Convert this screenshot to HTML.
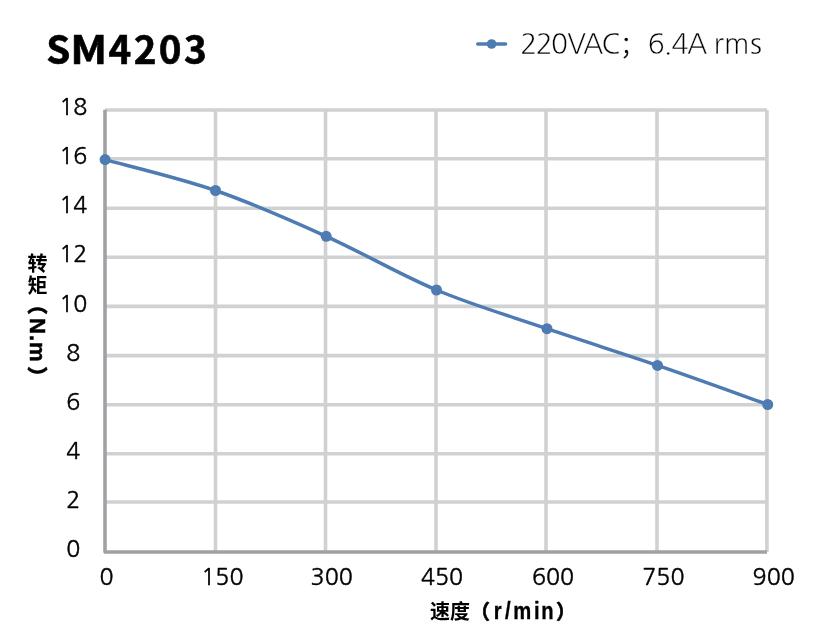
<!DOCTYPE html>
<html><head><meta charset="utf-8">
<style>
html,body{margin:0;padding:0;background:#fff;}
body{width:831px;height:640px;position:relative;overflow:hidden;}
svg{position:absolute;left:0;top:0;will-change:transform;}
.t{font-family:"Liberation Sans","Noto Sans CJK SC",sans-serif;}
.c{font-family:"Noto Sans CJK SC",sans-serif;}
.v{position:absolute;will-change:transform;writing-mode:vertical-rl;font-weight:bold;white-space:nowrap;color:#000;}
.cjk{font-family:"Noto Sans CJK SC",sans-serif;font-size:20px;line-height:20px;}
.lat{font-family:"Liberation Sans","Noto Sans CJK SC",sans-serif;font-size:22px;line-height:22px;}
</style></head>
<body>
<svg width="831" height="640" viewBox="0 0 831 640">
<g stroke="#d0d1d3" stroke-width="3.6" fill="none">
<path d="M105,110H767M105,158.8H767M105,208.2H767M105,257.3H767M105,306.4H767M105,355.6H767M105,404.7H767M105,453.8H767M105,502H767"/>
<path d="M215.5,110V552M325.5,110V552M436,110V552M546,110V552M657,110V552M766.9,110V552"/>
</g>
<g stroke="#a0a1a5" stroke-width="3.6" fill="none">
<path d="M105,109.8V552.8"/>
<path d="M104,552H767"/>
</g>
<path d="M105.1,159.6 C123.5,164.8 178.7,177.7 215.5,190.5 C252.3,203.3 289.4,219.7 326.2,236.3 C363.0,252.9 399.7,274.6 436.5,290.0 C473.3,305.4 510.2,316.1 547.0,328.7 C583.8,341.3 620.7,352.8 657.5,365.4 C694.3,378.0 749.3,398.0 767.7,404.5" stroke="#4e7cb2" stroke-width="3.5" fill="none" stroke-linejoin="round"/>
<g fill="#4e7cb2">
<circle cx="105.1" cy="159.6" r="5.5"/><circle cx="215.5" cy="190.5" r="5.5"/><circle cx="326.2" cy="236.3" r="5.5"/><circle cx="436.5" cy="290" r="5.5"/><circle cx="547" cy="328.7" r="5.5"/><circle cx="657.5" cy="365.4" r="5.5"/><circle cx="767.7" cy="404.5" r="5.5"/>
</g>
<path d="M477.7,44H505.6" stroke="#4e7cb2" stroke-width="3.4" stroke-linecap="round"/>
<circle cx="491.6" cy="44" r="4.8" fill="#4e7cb2"/>
<g font-family="NanumGothic, sans-serif" font-size="23.2" fill="#000" stroke="#000" stroke-width="0.4" text-anchor="middle">
<text x="73.3" y="115.1">18</text><text x="73.3" y="164.2">16</text><text x="73.3" y="213.3">14</text><text x="73.3" y="262.4">12</text><text x="73.3" y="311.5">10</text><text x="73.3" y="360.7">8</text><text x="73.3" y="409.8">6</text><text x="73.3" y="458.9">4</text><text x="73.3" y="508">2</text><text x="73.3" y="557.1">0</text>
</g>
<g font-family="NanumGothic, sans-serif" font-size="23.2" fill="#000" stroke="#000" stroke-width="0.4" text-anchor="middle">
<text x="106.5" y="585">0</text><text x="222.4" y="585">150</text><text x="331.7" y="585">300</text><text x="442" y="585">450</text><text x="553" y="585">600</text><text x="663.4" y="585">750</text><text x="773.7" y="585">900</text>
</g>
<g font-family="Noto Sans CJK SC, sans-serif" font-size="38.6" font-weight="bold" fill="#000" stroke="#000" stroke-width="0.6">
<text x="46.19" y="64.3">S</text>
<text transform="translate(88.8,64.3) scale(1.12,1)" x="-16.5" y="0">M</text>
<text x="108.6 133.735 158.68 183.89" y="64.3">4203</text>
</g>
<g font-family="NanumGothic, sans-serif" font-size="28" fill="#000" stroke="#fff" stroke-width="0.3">
<text x="520.28 535.68 551.08 567.32 583.1 601.38" y="54">220VAC</text>
<text x="619.8" y="54" font-family="Noto Sans CJK SC, sans-serif" font-weight="100" font-size="26" stroke="#000" stroke-width="0.5">；</text>
<text x="647.77 663.81 671.5 687.1 700 713.38 723.96 750.09" y="54">6.4A rms</text>
</g>
<text x="430" y="619" font-family="Noto Sans CJK SC, sans-serif" font-size="20" font-weight="bold" fill="#000">速度<tspan stroke="#000" stroke-width="0.6">（</tspan></text>
<text transform="translate(494,618.5) scale(0.92,1.06)" x="-0.2 11.99 20.94 43.58 51.23" y="0" font-family="Liberation Sans, sans-serif" font-size="22" font-weight="bold" fill="#000" stroke="#000" stroke-width="0.3">r/min</text>
<text x="556" y="619" font-family="Noto Sans CJK SC, sans-serif" font-size="20" font-weight="bold" fill="#000" stroke="#000" stroke-width="0.6">）</text>
</svg>
<div class="v cjk" style="left:27px;top:253px;letter-spacing:2.5px">转矩</div>
<div class="v cjk" style="left:27px;top:293.8px;-webkit-text-stroke:0.9px #000">（</div>
<div class="v lat" style="left:26px;top:318px;letter-spacing:1px;-webkit-text-stroke:0.5px #000">N.m</div>
<div class="v cjk" style="left:27px;top:366.5px;-webkit-text-stroke:0.9px #000">）</div>
</body></html>
